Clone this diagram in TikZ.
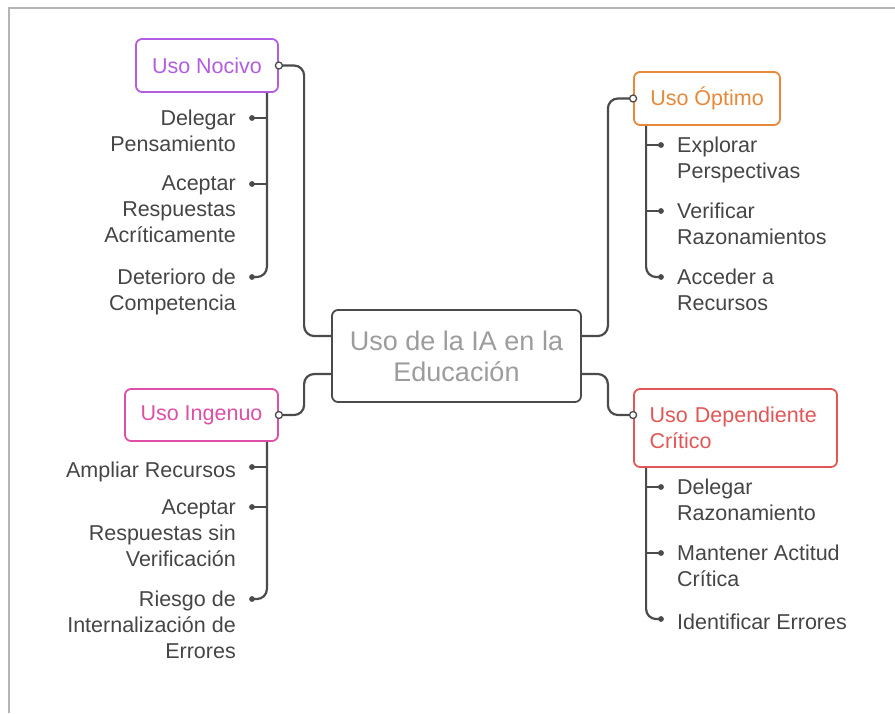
\documentclass[tikz,border=0pt]{standalone}
\usepackage{fontspec}
\setmainfont{Liberation Sans}
\usetikzlibrary{positioning}

\definecolor{nocivoc}{HTML}{B35DE3}
\definecolor{optimoc}{HTML}{E8893A}
\definecolor{ingenuoc}{HTML}{DE50A8}
\definecolor{criticoc}{HTML}{E35656}
\definecolor{linegray}{HTML}{4B4B4B}
\definecolor{leafgray}{HTML}{454545}
\definecolor{maingray}{HTML}{9C9C9C}
\definecolor{framegray}{HTML}{B4B4B4}

\begin{document}
\begin{tikzpicture}[
  x=1pt, y=-1pt,
  link/.style={draw=linegray, line width=2.2pt, rounded corners=10pt},
  topic/.style={rounded corners=6pt, line width=1.8pt, fill=white, inner sep=0pt, font=\fontsize{21.5}{26}\selectfont},
  leafl/.style={anchor=north east, align=right, text=leafgray, inner sep=0pt, font=\fontsize{21.5}{26}\selectfont, execute at begin node=\strut},
  leafr/.style={anchor=north west, align=left, text=leafgray, inner sep=0pt, font=\fontsize{21.5}{26}\selectfont, execute at begin node=\strut},
  knob/.style={circle, draw=linegray, fill=white, line width=1.3pt, inner sep=0pt, minimum size=7pt},
  dot/.style={fill=linegray}
]
  \useasboundingbox (0,0) rectangle (895,713);
  \draw[framegray, line width=1.5pt] (9,713) -- (9,8) -- (895,8);

  % centre topic
  \node[draw=linegray, rounded corners=6pt, line width=1.8pt, minimum width=249pt, minimum height=92pt,
        align=center, text=maingray, font=\fontsize{27}{31}\selectfont] (main) at (456.5,356) {Uso de la IA en la\\Educación};

  % the four kinds of use
  \node[topic, draw=nocivoc, text=nocivoc, minimum width=142pt, minimum height=53pt] (nocivo) at (207,65.5) {Uso Nocivo};
  \node[topic, draw=optimoc, text=optimoc, minimum width=146pt, minimum height=53pt] (optimo) at (707,98.5) {Uso Óptimo};
  \node[topic, draw=ingenuoc, text=ingenuoc, minimum width=153pt, minimum height=52pt] (ingenuo) at (201.5,415) {Uso Ingenuo};
  \node[topic, draw=criticoc, text=criticoc, minimum width=203pt, minimum height=78pt, align=left, text width=172pt] (critico) at (735.5,428) {Uso Dependiente\\Crítico};

  \draw[link] ([yshift=20pt]main.west) -- ++(-27,0) |- (nocivo.east);
  \draw[link] ([yshift=-18pt]main.west) -- ++(-27,0) |- (ingenuo.east);
  \draw[link] ([yshift=20pt]main.east) -- ++(26,0) |- (optimo.west);
  \draw[link] ([yshift=-18pt]main.east) -- ++(26,0) |- ([yshift=13pt]critico.west);
  \node[knob] at (nocivo.east) {};
  \node[knob] at (ingenuo.east) {};
  \node[knob] at (optimo.west) {};
  \node[knob] at ([yshift=13pt]critico.west) {};

  % Uso Nocivo
  \coordinate (nt) at ([xshift=-12pt]nocivo.south east);
  \coordinate (n1) at (252,118);
  \coordinate (n2) at (252,184);
  \coordinate (n3) at (252,277);
  \draw[link] (nt) |- (n3);
  \draw[link] (nt |- n1) -- (n1);
  \draw[link] (nt |- n2) -- (n2);
  \foreach \d in {n1,n2,n3} \fill[dot] (\d) circle (2.9pt);
  \node[leafl] (n1t) at ([xshift=-16pt,yshift=8pt]n1) {Delegar\\Pensamiento};
  \node[leafl] (n2t) at ([xshift=-16pt,yshift=8pt]n2) {Aceptar\\Respuestas\\Acríticamente};
  \node[leafl] (n3t) at ([xshift=-16pt,yshift=8pt]n3) {Deterioro de\\Competencia};

  % Uso Optimo
  \coordinate (ot) at ([xshift=13pt]optimo.south west);
  \coordinate (o1) at (661,145);
  \coordinate (o2) at (661,211);
  \coordinate (o3) at (661,277);
  \draw[link] (ot) |- (o3);
  \draw[link] (ot |- o1) -- (o1);
  \draw[link] (ot |- o2) -- (o2);
  \foreach \d in {o1,o2,o3} \fill[dot] (\d) circle (2.9pt);
  \node[leafr] (o1t) at ([xshift=16pt,yshift=8pt]o1) {Explorar\\Perspectivas};
  \node[leafr] (o2t) at ([xshift=16pt,yshift=8pt]o2) {Verificar\\Razonamientos};
  \node[leafr] (o3t) at ([xshift=16pt,yshift=8pt]o3) {Acceder a\\Recursos};

  % Uso Ingenuo
  \coordinate (it) at ([xshift=-12pt]ingenuo.south east);
  \coordinate (i1) at (252,467);
  \coordinate (i2) at (252,507);
  \coordinate (i3) at (252,599);
  \draw[link] (it) |- (i3);
  \draw[link] (it |- i1) -- (i1);
  \draw[link] (it |- i2) -- (i2);
  \foreach \d in {i1,i2,i3} \fill[dot] (\d) circle (2.9pt);
  \node[leafl] (i1t) at ([xshift=-16pt,yshift=8pt]i1) {Ampliar Recursos};
  \node[leafl] (i2t) at ([xshift=-16pt,yshift=8pt]i2) {Aceptar\\Respuestas sin\\Verificación};
  \node[leafl] (i3t) at ([xshift=-16pt,yshift=8pt]i3) {Riesgo de\\Internalización de\\Errores};

  % Uso Dependiente Critico
  \coordinate (ct) at ([xshift=13pt]critico.south west);
  \coordinate (c1) at (661,487);
  \coordinate (c2) at (661,553);
  \coordinate (c3) at (661,619);
  \draw[link] (ct) |- (c3);
  \draw[link] (ct |- c1) -- (c1);
  \draw[link] (ct |- c2) -- (c2);
  \foreach \d in {c1,c2,c3} \fill[dot] (\d) circle (2.9pt);
  \node[leafr] (c1t) at ([xshift=16pt,yshift=8pt]c1) {Delegar\\Razonamiento};
  \node[leafr] (c2t) at ([xshift=16pt,yshift=8pt]c2) {Mantener Actitud\\Crítica};
  \node[leafr] (c3t) at ([xshift=16pt,yshift=8pt]c3) {Identificar Errores};
\end{tikzpicture}
\end{document}
